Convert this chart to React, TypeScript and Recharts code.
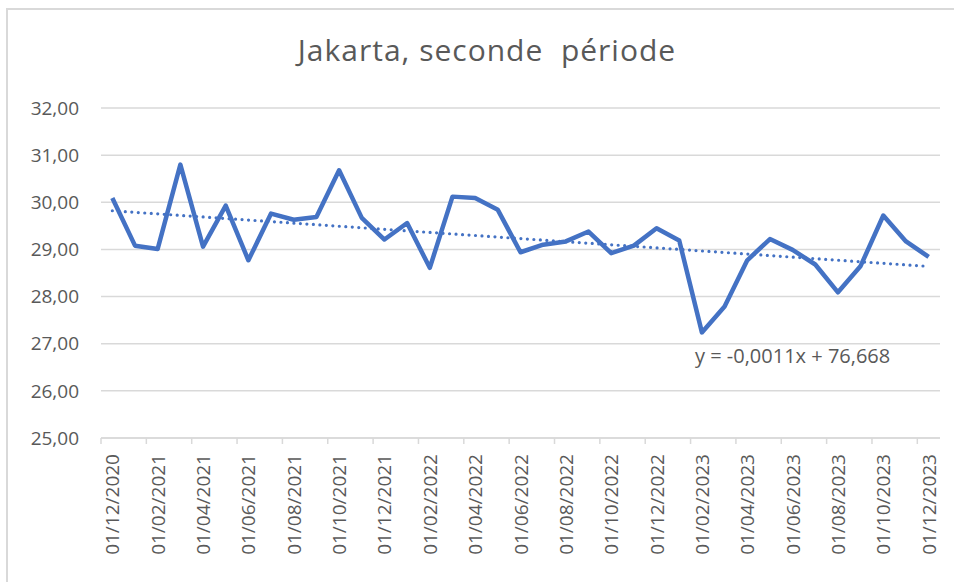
import { LineChart, Line, XAxis, YAxis, CartesianGrid, ReferenceLine, ReferenceDot } from 'recharts';

const months = [
  '01/12/2020', '01/01/2021', '01/02/2021', '01/03/2021', '01/04/2021', '01/05/2021', '01/06/2021',
  '01/07/2021', '01/08/2021', '01/09/2021', '01/10/2021', '01/11/2021', '01/12/2021', '01/01/2022',
  '01/02/2022', '01/03/2022', '01/04/2022', '01/05/2022', '01/06/2022', '01/07/2022', '01/08/2022',
  '01/09/2022', '01/10/2022', '01/11/2022', '01/12/2022', '01/01/2023', '01/02/2023', '01/03/2023',
  '01/04/2023', '01/05/2023', '01/06/2023', '01/07/2023', '01/08/2023', '01/09/2023', '01/10/2023',
  '01/11/2023', '01/12/2023',
];

const temps = [
  30.09, 29.08, 29.01, 30.8, 29.06, 29.93, 28.77, 29.76, 29.63, 29.69, 30.68, 29.67, 29.21,
  29.56, 28.61, 30.12, 30.09, 29.84, 28.94, 29.1, 29.17, 29.38, 28.92, 29.08, 29.45, 29.19,
  27.24, 27.79, 28.77, 29.22, 28.99, 28.68, 28.09, 28.65, 29.72, 29.17, 28.84,
];

const yTicks = [25, 26, 27, 28, 29, 30, 31, 32];

// trendline end values as drawn by Excel
const trendStart = 29.82;
const trendEnd = 28.64;
const trendLabel = 'y = -0,0011x + 76,668';
const trendLabelAt = { x: '01/06/2023', y: 26.75 };

const title = 'Jakarta, seconde  période';

const data = months.map((m, i) => ({ month: m, temp: temps[i] }));

const TEXT = '#595959';
const GRID = '#d9d9d9';
const BLUE = '#4472C4';
const FONT = '"Open Sans", sans-serif';
const HALF_BAND = 839 / months.length / 2;

const fmt = (v: number) => v.toFixed(2).replace('.', ',');

function DateTick(props: any) {
  const { x, y, payload } = props;
  return (
    <g>
      <line x1={x - HALF_BAND} x2={x - HALF_BAND} y1={y} y2={y + 6} stroke={GRID} strokeWidth={1.5} />
      <text
        x={x}
        y={y + 16}
        transform={`rotate(-90 ${x} ${y + 16})`}
        textAnchor="end"
        dominantBaseline="central"
        fill={TEXT}
        fontSize={19}
        fontFamily={FONT}
      >
        {payload.value}
      </text>
    </g>
  );
}

export default function App() {
  return (
    <div style={{ position: 'absolute', left: 0, top: 0, width: 954, height: 582, background: '#fff', overflow: 'hidden' }}>
      <div
        style={{
          position: 'absolute',
          left: 6,
          top: 8,
          width: 960,
          height: 600,
          borderTop: `2px solid ${GRID}`,
          borderLeft: `2px solid ${GRID}`,
        }}
      />
      <div
        style={{
          position: 'absolute',
          left: 0,
          top: 35,
          width: 974,
          textAlign: 'center',
          fontFamily: FONT,
          fontSize: 30,
          lineHeight: '30px',
          letterSpacing: 1,
          color: TEXT,
          whiteSpace: 'pre',
        }}
      >
        {title}
      </div>
      <div style={{ position: 'absolute', left: 0, top: 0 }}>
        <LineChart width={954} height={582} data={data} margin={{ top: 108, right: 14, bottom: 0, left: 0 }}>
          <CartesianGrid vertical={false} stroke={GRID} strokeWidth={1.5} />
          <XAxis
            dataKey="month"
            interval={1}
            height={144}
            padding={{ left: HALF_BAND, right: HALF_BAND }}
            tickLine={false}
            tickSize={0}
            tickMargin={0}
            axisLine={{ stroke: GRID, strokeWidth: 1.5 }}
            tick={<DateTick />}
          />
          <YAxis
            domain={[25, 32]}
            ticks={yTicks}
            width={101}
            tickLine={false}
            axisLine={false}
            tickSize={0}
            tickMargin={22}
            tickFormatter={fmt}
            tick={{ fill: TEXT, fontSize: 19, fontFamily: FONT }}
          />
          <ReferenceLine
            segment={[
              { x: months[0], y: trendStart },
              { x: months[months.length - 1], y: trendEnd },
            ]}
            stroke={BLUE}
            strokeWidth={3.2}
            strokeDasharray="0 6.5"
            strokeLinecap="round"
          />
          <Line
            type="linear"
            dataKey="temp"
            stroke={BLUE}
            strokeWidth={4.5}
            strokeLinejoin="round"
            dot={false}
            isAnimationActive={false}
          />
          <ReferenceDot
            x={trendLabelAt.x}
            y={trendLabelAt.y}
            r={0}
            fill="none"
            stroke="none"
            label={{ value: trendLabel, position: 'center', fill: TEXT, fontSize: 20, fontFamily: FONT }}
          />
        </LineChart>
      </div>
    </div>
  );
}
